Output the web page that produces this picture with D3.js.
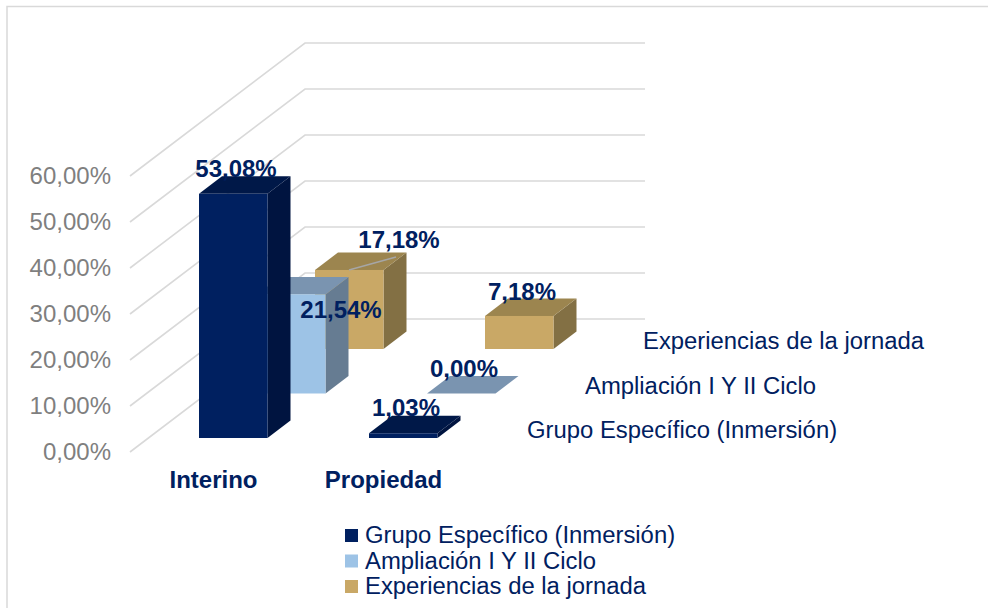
<!DOCTYPE html>
<html><head><meta charset="utf-8">
<script src="https://cdn.jsdelivr.net/npm/d3@7/dist/d3.min.js"></script>
<style>html,body{margin:0;padding:0;background:#fff}svg{display:block}text{font-family:"Liberation Sans",Arial,sans-serif}</style>
</head><body><svg id="c" width="988" height="608"></svg>
<script>
const categories = ["Interino", "Propiedad"];
const seriesNames = ["Grupo Específico (Inmersión)", "Ampliación I Y II Ciclo", "Experiencias de la jornada"];
const grupoValues = [53.08, 1.03];
const ampliacionValues = [21.54, 0.00];
const experienciasValues = [17.18, 7.18];
const valueTicks = [0, 10, 20, 30, 40, 50, 60];
const frontColors = ["#002060", "#9dc3e6", "#c9a866"];
const topColors = ["#001848", "#7a94b0", "#9c854f"];
const sideColors = ["#001440", "#667c92", "#837044"];
const navy = "#002060";
const FS = 24, FS2 = 23.85;

const svg = d3.select("#c");
svg.append("path").attr("d", d3.line()([[7,608],[7,6.5],[988,6.5]])).attr("fill","none").attr("stroke","#d9d9d9").attr("stroke-width",1.5);

const yH = d3.scaleLinear().domain([0,60]).range([0,276]);
const xCat = d3.scalePoint().domain(categories).range([199,369]);
const depthX = d3.scalePoint().domain(seriesNames).range([0,116]);
const depthY = d3.scalePoint().domain(seriesNames).range([438,349]);
const barW = 68.5, topDx = 23, topDy = 17.5;
const line = d3.line();

const gridG = svg.append("g");
valueTicks.forEach(t=>{
  const h=yH(t);
  gridG.append("path").attr("d",line([[130,452-h],[305,319-h],[645,319-h]]))
    .attr("fill","none").attr("stroke","#d9d9d9").attr("stroke-width",1.6);
});

const yAxisScale = d3.scaleLinear().domain([0,60]).range([452,176]);
const ax = svg.append("g").attr("transform","translate(111,0)")
  .call(d3.axisLeft(yAxisScale).tickValues(valueTicks).tickSize(0).tickPadding(0)
    .tickFormat(d=>d.toFixed(2).replace(".",",")+"%"));
ax.select(".domain").remove();
ax.selectAll("text").attr("font-size",FS).attr("fill","#7f7f7f").style("font-family",'"Liberation Sans",Arial,sans-serif');

const seriesValues = [grupoValues, ampliacionValues, experienciasValues];
const labelOffsets = [[[37,-17],[37,-17]],[[84,24],[37,-17]],[[84,-22],[37,-16]]];
[2,1,0].forEach(s=>{
  categories.forEach((c,i)=>{
    const v=seriesValues[s][i];
    const x=xCat(c)+depthX(seriesNames[s]), y=depthY(seriesNames[s]), h=yH(v), g=svg.append("g");
    g.append("polygon").attr("points",[[x+barW,y],[x+barW+topDx,y-topDy],[x+barW+topDx,y-h-topDy],[x+barW,y-h]].join(" ")).attr("fill",sideColors[s]);
    g.append("polygon").attr("points",[[x,y-h],[x+barW,y-h],[x+barW+topDx,y-h-topDy],[x+topDx,y-h-topDy]].join(" ")).attr("fill",topColors[s]);
    g.append("rect").attr("x",x).attr("y",y-h).attr("width",barW).attr("height",h).attr("fill",frontColors[s]);
  });
});

const lx=xCat("Interino")+depthX(seriesNames[2]), ly=depthY(seriesNames[2])-yH(17.18);
svg.append("path").attr("d",line([[lx+34,ly],[lx+81,ly-13]])).attr("stroke","#a6a6a6").attr("stroke-width",1.5).attr("fill","none");

[2,1,0].forEach(s=>{
  categories.forEach((c,i)=>{
    const v=seriesValues[s][i];
    const x=xCat(c)+depthX(seriesNames[s]), y=depthY(seriesNames[s])-yH(v);
    const o=labelOffsets[s][i];
    svg.append("text").attr("x",x+o[0]).attr("y",y+o[1]).attr("text-anchor","middle")
      .attr("font-size",FS).attr("font-weight","bold").attr("fill",navy)
      .text(v.toFixed(2).replace(".",",")+"%");
  });
});

categories.forEach((c,i)=>{
  svg.append("text").attr("x",xCat(c)+14.5).attr("y",488).attr("text-anchor","middle")
    .attr("font-size",FS).attr("font-weight","bold").attr("fill",navy).text(c);
});

seriesNames.forEach((n,i)=>{
  svg.append("text").attr("x",527+depthX(n)).attr("y",438-depthY.step()*i).attr("font-size",FS2).attr("fill",navy).text(n);
});

const legY = d3.scalePoint().domain(seriesNames).range([535,586]);
seriesNames.forEach((n,i)=>{
  svg.append("rect").attr("x",345).attr("y",legY(n)-6).attr("width",13).attr("height",13).attr("fill",frontColors[i]);
  svg.append("text").attr("x",365).attr("y",legY(n)+8).attr("font-size",FS2).attr("fill",navy).text(n);
});
</script></body></html>
